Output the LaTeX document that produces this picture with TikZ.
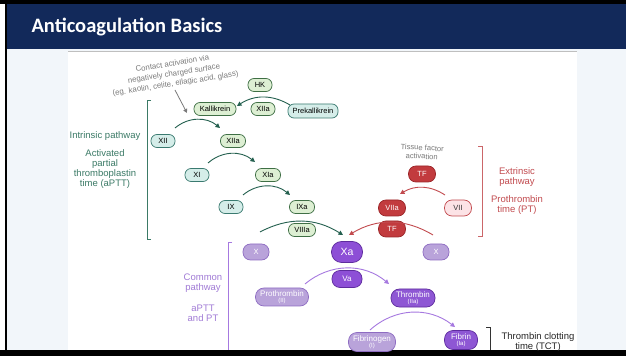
\documentclass[tikz,border=0pt]{standalone}
\usepackage{fontspec}
\setmainfont{Liberation Sans}
\newfontfamily\titlefont{Carlito}
\usetikzlibrary{arrows.meta,calc}
\definecolor{navy}{HTML}{12295A}
\definecolor{pagebg}{HTML}{F2F6FA}
\definecolor{tealdk}{HTML}{24604F}
\definecolor{tealtx}{HTML}{3B7A66}
\definecolor{grfill}{HTML}{DDEFD3}
\definecolor{grline}{HTML}{3F6F45}
\definecolor{cyfill}{HTML}{D5EDE9}
\definecolor{cyline}{HTML}{3A7A70}
\definecolor{reddk}{HTML}{C23B3E}
\definecolor{redln}{HTML}{9A2528}
\definecolor{redlt}{HTML}{FCE3E6}
\definecolor{redtx}{HTML}{C24B4F}
\definecolor{purdk}{HTML}{8D4FD6}
\definecolor{purln}{HTML}{5E2C9E}
\definecolor{purlt}{HTML}{B9A3DA}
\definecolor{purltln}{HTML}{8E6CC2}
\definecolor{purmd}{HTML}{8E57D4}
\definecolor{purtx}{HTML}{A17BD6}
\definecolor{purarr}{HTML}{A679E0}
\definecolor{greytx}{HTML}{7A7A7A}
\begin{document}
\begin{tikzpicture}[x=1pt,y=1pt,
  nfont/.style={font=\fontsize{7.5}{8.5}\selectfont},
  pill/.style={draw, line width=0.7pt, inner sep=0pt, align=center, nfont},
  sm/.style={pill, minimum width=#1, minimum height=13pt, rounded corners=6pt},
  md/.style={pill, minimum width=#1, minimum height=16pt, rounded corners=7.5pt},
  lg/.style={pill, minimum width=#1, minimum height=18pt, rounded corners=8.5pt},
  green/.style={fill=grfill, draw=grline, text=black},
  cyan/.style={fill=cyfill, draw=cyline, text=black},
  rdk/.style={fill=reddk, draw=redln, text=white},
  rlt/.style={fill=redlt, draw=redtx, text=black!80},
  pdk/.style={fill=purdk, draw=purln, text=white},
  plt/.style={fill=purlt, draw=purltln, text=white},
  pmd/.style={fill=purmd, draw=purln, text=white},
  label/.style={font=\fontsize{9.5}{10}\selectfont, align=center},
  arr/.style={line width=0.9pt, -{Triangle[length=4.5pt,width=4.5pt]}},
  brk/.style={line width=1pt}
]
\useasboundingbox (0,0) rectangle (626,356);
% background
\fill[white] (0,0) rectangle (626,356);
\fill[pagebg] (7,6) rectangle (626,307);
\fill[white] (68,6) rectangle (577,305);
\draw[black!25, line width=1pt] (68,304.5) -- (577,304.5);
\fill[navy] (7,307) rectangle (626,352);
\fill[black] (0,352) rectangle (626,356);
\fill[black] (0,0) rectangle (626,6);
\fill[black] (5,0) rectangle (7,356);
\node[anchor=west, text=white, font=\titlefont\bfseries\fontsize{20.5}{22}\selectfont] (title) at (28,328.5) {Anticoagulation Basics};

% contact activation
\node[rotate=9, text=greytx, font=\fontsize{7.8}{10}\selectfont, align=center] (contact) at (174,282) {Contact activation via\\negatively charged surface\\(eg. kaolin, celite, ellagic acid, glass)};
\coordinate (cstart) at (175,266);
\coordinate (cend) at (187,243);
\draw[greytx, line width=0.8pt, -{Triangle[length=4pt,width=4pt]}] (cstart) -- (cend);

% intrinsic nodes
\node[sm=24pt, green] (HK) at (260,271) {HK};
\node[sm=42pt, green] (Kal) at (215,247) {Kallikrein};
\node[sm=24pt, green] (XIIa1) at (263,247) {XIIa};
\node[sm=50pt, cyan, minimum height=14pt] (Prek) at (313,245) {Prekallikrein};
\node[sm=24pt, cyan] (XII) at (163,215) {XII};
\node[sm=25pt, green] (XIIa) at (233,215) {XIIa};
\node[sm=24pt, cyan] (XI) at (197,181) {XI};
\node[sm=25pt, green] (XIa) at (268,181) {XIa};
\node[sm=24pt, cyan] (IX) at (231,149) {IX};
\node[sm=25pt, green] (IXa) at (302,149) {IXa};
\node[sm=27pt, green] (VIIIa) at (302,126) {VIIIa};

% extrinsic nodes
\node[md=27pt, rdk] (TF1) at (422,182) {TF};
\node[md=27pt, rdk] (VIIa) at (392,148) {VIIa};
\node[md=27pt, rlt] (VII) at (458,148) {VII};
\node[md=27pt, rdk] (TF2) at (392,127) {TF};

% common nodes
\node[pill, pdk, minimum width=31pt, minimum height=21pt, rounded corners=10pt, font=\fontsize{10.5}{11}\selectfont] (Xa) at (347,104) {Xa};
\node[md=26pt, plt] (X1) at (256,104) {X};
\node[md=26pt, plt] (X2) at (436,104) {X};
\node[pill, pdk, minimum width=30pt, minimum height=17pt, rounded corners=8pt, font=\fontsize{8}{9}\selectfont] (Va) at (347,77) {Va};
\node[lg=53pt, plt, font=\fontsize{8}{7}\selectfont] (Pro) at (282,59) {Prothrombin\\[-1pt]{\fontsize{6}{6}\selectfont(II)}};
\node[lg=44pt, pmd, font=\fontsize{8}{7}\selectfont] (Thr) at (413,58) {Thrombin\\[-1pt]{\fontsize{6}{6}\selectfont(IIa)}};
\node[lg=47pt, plt, minimum height=19pt, font=\fontsize{8}{7}\selectfont] (Fg) at (372,14) {Fibrinogen\\[-1pt]{\fontsize{6}{6}\selectfont(I)}};
\node[lg=33pt, pmd, minimum height=19pt, font=\fontsize{8}{7}\selectfont] (Fn) at (461,16) {Fibrin\\[-1pt]{\fontsize{6}{6}\selectfont(Ia)}};

% arrows
\draw[arr, tealdk] ($(Prek)+(-23,6)$) to[bend right=32] ($(Kal)+(22,3)$);
\draw[arr, tealdk] ($(XII)+(12,13)$) to[bend left=40] ($(XIIa)+(-13,13)$);
\draw[arr, tealdk] ($(XI)+(11,12)$) to[bend left=40] ($(XIa)+(-13,13)$);
\draw[arr, tealdk] ($(IX)+(12,12)$) to[bend left=40] ($(IXa)+(-12,12)$);
\draw[arr, tealdk] ($(X1)+(4,20)$) to[bend left=30] ($(Xa)+(-4,17)$);
\draw[arr, redtx] ($(X2)+(-3,17)$) to[bend right=31] ($(Xa)+(2,17)$);
\draw[arr, redtx] ($(VII)+(-13,13)$) to[bend right=32] ($(VIIa)+(8,14)$);
\draw[arr, purarr] ($(Pro)+(23,13)$) to[bend left=40] ($(Thr)+(-24,14)$);
\draw[arr, purarr] ($(Fg)+(-2,12)$) to[bend left=40] ($(Fn)+(-6,13)$);

% brackets
\draw[brk, tealtx] (151,255) -- (147,255) -- (147,116) -- (151,116);
\draw[brk, redtx!85] (478,209) -- (482,209) -- (482,119) -- (478,119);
\draw[brk, purarr] (232,113) -- (228,113) -- (228,6);
\draw[brk, black!80] (486,29) -- (490,29) -- (490,6);

% labels
\node[label, text=tealtx] (intr) at (105,220) {Intrinsic pathway};
\node[label, text=tealtx] (aptt) at (105,187) {Activated\\partial\\thromboplastin\\time (aPTT)};
\node[text=greytx, font=\fontsize{7.6}{8.6}\selectfont, align=center, rotate=-3] (tfa) at (422,204) {Tissue factor\\activation};
\node[label, text=redtx] (extr) at (517,179) {Extrinsic\\pathway};
\node[label, text=redtx] (pt) at (517,150.5) {Prothrombin\\time (PT)};
\node[label, text=purtx] (comm) at (203,72.5) {Common\\pathway};
\node[label, text=purtx] (aptpt) at (203,43) {aPTT\\and PT};
\node[label, text=black!85] (tct) at (538,13.5) {Thrombin clotting\\time (TCT)};
\end{tikzpicture}
\end{document}
